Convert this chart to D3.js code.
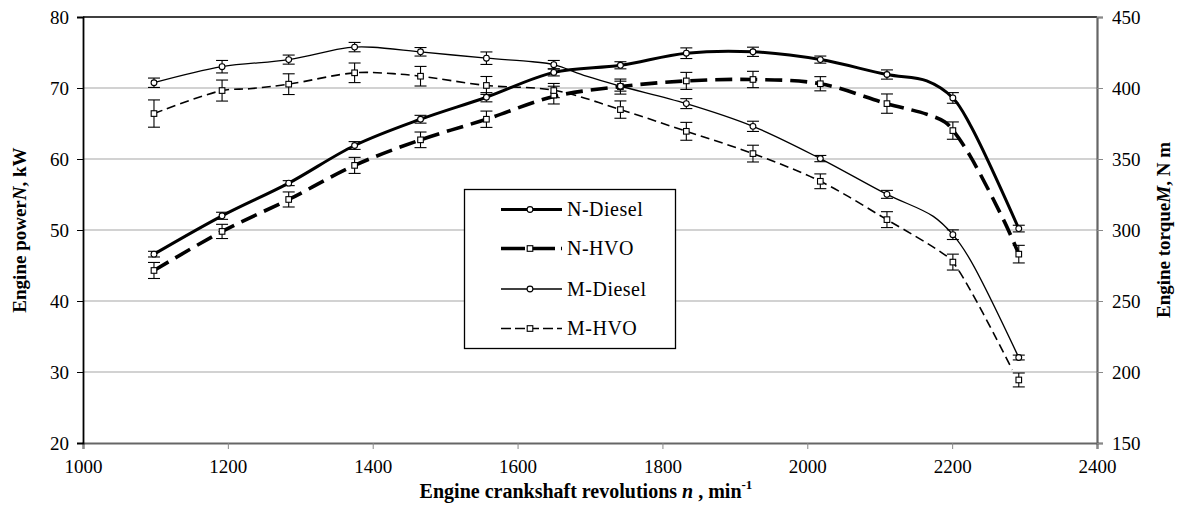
<!DOCTYPE html>
<html><head><meta charset="utf-8">
<script src="https://cdn.jsdelivr.net/npm/d3@7"></script>
<style>
html,body{margin:0;padding:0;background:#fff;}
svg{display:block;font-family:"Liberation Serif","Times New Roman",serif;}
</style></head>
<body>
<svg id="chart" width="1180" height="506"></svg>
<script>
// ---------- data ----------
const rpm = [1098,1192,1284,1375,1466,1557,1650,1742,1833,1925,2018,2110,2201,2292];
const nDiesel    = [46.6,52.0,56.6,61.9,65.6,68.7,72.2,73.2,74.9,75.1,74.0,71.9,68.6,50.2];
const nDieselErr = [0.4,0.5,0.35,0.55,0.55,0.65,0.5,0.5,0.75,0.65,0.5,0.65,0.75,0.47];
const nHvo       = [44.3,49.8,54.3,59.1,62.7,65.6,69.0,70.2,71.0,71.2,70.6,67.8,64.0,46.6];
const nHvoErr    = [1.13,1.0,1.06,1.13,1.1,1.15,1.25,1.06,1.2,1.15,1.0,1.36,1.22,1.24];
const mDiesel    = [403.7,415,420,428.8,425.5,421,416.4,401.3,389,373,350.3,325.1,296.7,210.2];
const mDieselErr = [3.3,4.4,3.2,3.3,3.0,4.4,3.0,3.5,3.5,3.6,2.2,2.8,3.4,1.7];
const mHvo       = [382,398.2,402.7,410.7,408.3,401.8,398.2,384.8,369.5,353.8,334.3,307.3,277.4,194.4];
const mHvoErr    = [9.6,7.4,7.3,6.9,6.9,6.3,5.0,6.1,6.3,5.9,5.2,5.6,5.6,4.9];

// line traces (lines are smoothed through these vertices)
const nDieselLine = [[1098,46.6],[1192,52.0],[1284,56.6],[1375,61.9],[1466,65.6],[1557,68.7],[1650,72.2],[1742,73.2],[1833,74.9],[1925,75.1],[2018,74.0],[2110,71.9],[2165,71.0],[2201,68.6],[2225,64.8],[2292,50.2]];
const nHvoLine = [[1098,44.3],[1192,49.8],[1284,54.3],[1375,59.1],[1466,62.7],[1557,65.6],[1650,68.8],[1742,70.2],[1833,71.0],[1925,71.2],[2018,70.6],[2110,67.8],[2165,66.3],[2190,65.2],[2203,63.8],[2225,60.4],[2273,51.0],[2292,46.6]];
const mDieselLine = [[1098,403.7],[1192,415],[1284,420],[1355,427.6],[1375,428.8],[1400,428.7],[1466,425.5],[1557,421],[1621,418.5],[1650,416.4],[1695,408.3],[1742,401.3],[1833,389],[1925,373],[2018,350.3],[2110,325.1],[2174,309.6],[2201,296.7],[2225,279],[2292,210.2]];
const mHvoLine = [[1098,382],[1192,398.2],[1230,399.5],[1284,402.7],[1375,410.7],[1428,410.1],[1466,408.3],[1557,401.8],[1650,398.4],[1742,384.8],[1833,369.5],[1925,353.8],[2018,334.3],[2110,307.3],[2183,284.9],[2201,277.4],[2283,201.5]];

const xTicks = [1000,1200,1400,1600,1800,2000,2200,2400];
const leftTicks = [20,30,40,50,60,70,80];
const rightTicks = [150,200,250,300,350,400,450];
const legendLabels = ["N-Diesel","N-HVO","M-Diesel","M-HVO"];

// ---------- layout ----------
const svg = d3.select("#chart");
const L = 83, R = 1097, T = 17, B = 443;
const x = d3.scaleLinear().domain([1000,2400]).range([L,R]);
const yL = d3.scaleLinear().domain([20,80]).range([B,T]);
const yR = d3.scaleLinear().domain([150,450]).range([B,T]);

// gridlines
svg.append("g").selectAll("line").data(leftTicks.filter(d=>d>20 && d<80)).join("line")
  .attr("x1",L).attr("x2",R).attr("y1",d=>yL(d)).attr("y2",d=>yL(d))
  .attr("stroke","#a6a6a6").attr("stroke-width",1.2);

// top border
svg.append("line").attr("x1",L).attr("x2",R).attr("y1",T).attr("y2",T).attr("stroke","#000").attr("stroke-width",1.3);

// axes
const fontTick = 19;
const gx = svg.append("g").attr("transform",`translate(0,${B})`)
  .call(d3.axisBottom(x).tickValues(xTicks).tickSize(6).tickPadding(11).tickFormat(d3.format("d")));
gx.select(".domain").attr("stroke","#666").attr("stroke-width",2.2);
gx.selectAll(".tick line").attr("stroke","#888");
gx.selectAll("text").attr("font-size",fontTick).attr("fill","#000").attr("font-family","Liberation Serif");

const gl = svg.append("g").attr("transform",`translate(${L},0)`)
  .call(d3.axisLeft(yL).tickValues(leftTicks).tickSize(6).tickPadding(8).tickFormat(d3.format("d")));
gl.select(".domain").attr("stroke","#000").attr("stroke-width",1.8);
gl.selectAll(".tick line").attr("stroke","#000");
gl.selectAll("text").attr("font-size",fontTick).attr("fill","#000").attr("font-family","Liberation Serif");

const gr = svg.append("g").attr("transform",`translate(${R},0)`)
  .call(d3.axisRight(yR).tickValues(rightTicks).tickSize(6).tickPadding(9).tickFormat(d3.format("d")));
gr.select(".domain").attr("stroke","#666").attr("stroke-width",2.2);
gr.selectAll(".tick line").attr("stroke","#888");
gr.selectAll("text").attr("font-size",fontTick).attr("fill","#000").attr("font-family","Liberation Serif");

// series definitions
const series = [
  {name:"N-Diesel", vals:nDiesel, err:nDieselErr, line:nDieselLine, y:yL, w:3, dash:null, marker:"circle"},
  {name:"N-HVO", vals:nHvo, err:nHvoErr, line:nHvoLine, y:yL, w:3.6, dash:"17,8", marker:"square"},
  {name:"M-Diesel", vals:mDiesel, err:mDieselErr, line:mDieselLine, y:yR, w:1.3, dash:null, marker:"circle"},
  {name:"M-HVO", vals:mHvo, err:mHvoErr, line:mHvoLine, y:yR, w:1.6, dash:"9,5", marker:"square"}
];

// error bars
const cap = 6;
series.forEach(s=>{
  const g = svg.append("g").attr("stroke","#000").attr("stroke-width",1.1);
  rpm.forEach((r,i)=>{
    const cx = x(r), y1 = s.y(s.vals[i]-s.err[i]), y2 = s.y(s.vals[i]+s.err[i]);
    g.append("line").attr("x1",cx).attr("x2",cx).attr("y1",y1).attr("y2",y2);
    g.append("line").attr("x1",cx-cap).attr("x2",cx+cap).attr("y1",y1).attr("y2",y1);
    g.append("line").attr("x1",cx-cap).attr("x2",cx+cap).attr("y1",y2).attr("y2",y2);
  });
});

// lines
series.forEach(s=>{
  const gen = d3.line().x(d=>x(d[0])).y(d=>s.y(d[1])).curve(d3.curveCatmullRom.alpha(0.5));
  svg.append("path").attr("d",gen(s.line)).attr("fill","none").attr("stroke","#000")
    .attr("stroke-width",s.w).attr("stroke-dasharray",s.dash).attr("stroke-linejoin","round");
});

// markers
function drawMarker(g, type, cx, cy){
  if(type==="circle"){
    g.append("circle").attr("cx",cx).attr("cy",cy).attr("r",2.9)
      .attr("fill","#fff").attr("stroke","#000").attr("stroke-width",1.1);
  } else {
    g.append("rect").attr("x",cx-2.8).attr("y",cy-2.8).attr("width",5.6).attr("height",5.6)
      .attr("fill","#fff").attr("stroke","#000").attr("stroke-width",1.1);
  }
}
series.forEach(s=>{
  const g = svg.append("g");
  rpm.forEach((r,i)=>drawMarker(g, s.marker, x(r), s.y(s.vals[i])));
});

// legend
const lg = svg.append("g");
lg.append("rect").attr("x",464.5).attr("y",189.5).attr("width",211).attr("height",159)
  .attr("fill","#fff").attr("stroke","#000").attr("stroke-width",1.3);
const legY = [209.5,248.5,289,328.5];
const legDash = [null,"24,6","", "10,4"];
series.forEach((s,i)=>{
  const yy = legY[i];
  lg.append("line").attr("x1",501).attr("x2",562).attr("y1",yy).attr("y2",yy)
    .attr("stroke","#000").attr("stroke-width",s.w).attr("stroke-dasharray",legDash[i]||null);
  drawMarker(lg, s.marker, 530, yy);
  lg.append("text").attr("x",567).attr("y",yy+6.5).attr("font-size",20).attr("letter-spacing","0.5px")
    .text(legendLabels[i]);
});

// axis titles
const xt = svg.append("text").attr("x",(L+R)/2 - 4).attr("y",498).attr("text-anchor","middle")
  .attr("font-size",20).attr("font-weight","bold");
xt.append("tspan").text("Engine crankshaft revolutions ");
xt.append("tspan").attr("font-style","italic").text("n");
xt.append("tspan").text(" , min");
xt.append("tspan").attr("font-size",13).attr("dy",-9).text("-1");

const ylt = svg.append("text").attr("transform",`translate(26,${(T+B)/2}) rotate(-90)`)
  .attr("text-anchor","middle").attr("font-size",19).attr("font-weight","bold");
ylt.append("tspan").text("Engine power");
ylt.append("tspan").attr("font-style","italic").text("N");
ylt.append("tspan").text(", kW");

const yrt = svg.append("text").attr("transform",`translate(1170,${(T+B)/2}) rotate(-90)`)
  .attr("text-anchor","middle").attr("font-size",19).attr("font-weight","bold");
yrt.append("tspan").text("Engine torque");
yrt.append("tspan").attr("font-style","italic").text("M");
yrt.append("tspan").text(", N m");
</script>
</body></html>
